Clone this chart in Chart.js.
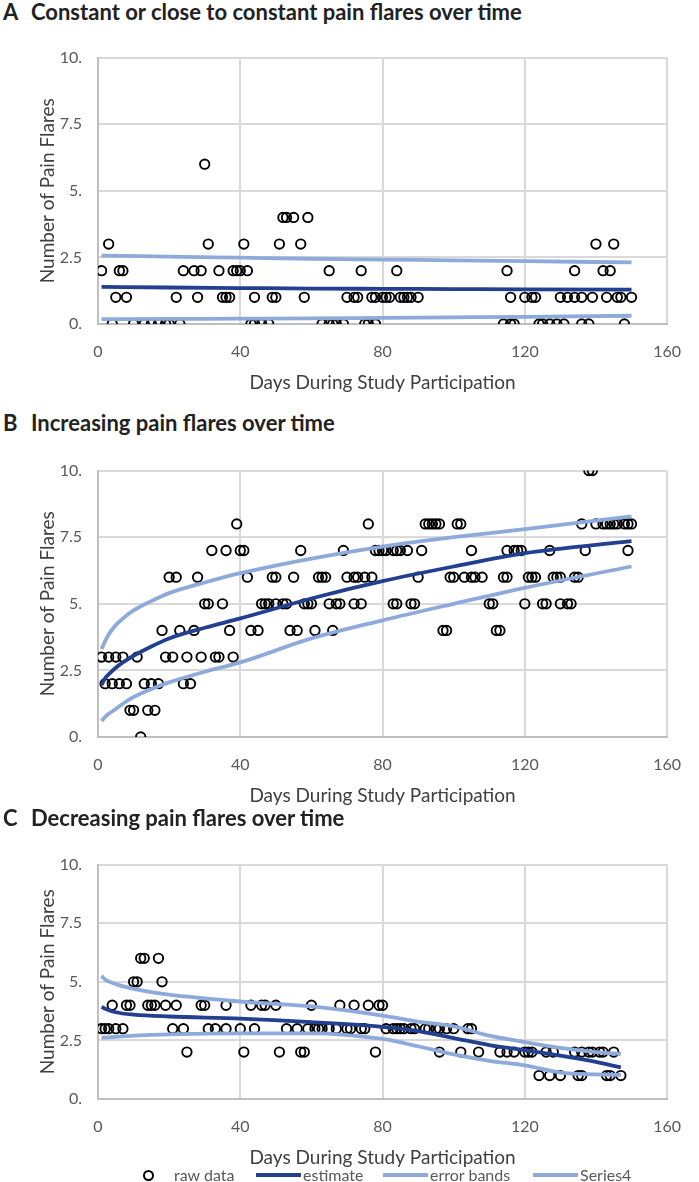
<!DOCTYPE html>
<html>
<head>
<meta charset="utf-8">
<script src="https://cdn.jsdelivr.net/npm/chart.js@4.4.0/dist/chart.umd.min.js"></script>
<style>
body { margin: 0; background: #fff; }
#page { position: relative; width: 699px; height: 1182px; overflow: hidden; font-family: Lato, "Open Sans", sans-serif; }
#page canvas { position: absolute; left: 0; }
.ttl { position: absolute; left: 0; width: 699px; height: 24px; line-height: 24px; font-size: 22px; font-weight: bold; color: #222; white-space: nowrap; }
.ttl span { position: absolute; top: 0; }
#legend { position: absolute; left: 0; top: 1165px; width: 699px; height: 20px; font-size: 16px; color: #595959; }
#legend .it { position: absolute; top: 0; line-height: 20px; white-space: nowrap; }
#legend .dot { position: absolute; top: 5px; width: 7px; height: 7px; border: 2px solid #000; border-radius: 50%; }
#legend .ln { position: absolute; top: 8px; width: 45px; height: 4px; }
</style>
</head>
<body>
<div id="page">
  <div class="ttl" style="top:0px"><span style="left:3px">A</span><span style="left:31px">Constant or close to constant pain flares over time</span></div>
  <canvas id="chartA" width="699" height="367" style="top:32px"></canvas>

  <div class="ttl" style="top:411px"><span style="left:3px">B</span><span style="left:31px">Increasing pain flares over time</span></div>
  <canvas id="chartB" width="699" height="367" style="top:445px"></canvas>

  <div class="ttl" style="top:806px"><span style="left:3px">C</span><span style="left:31px">Decreasing pain flares over time</span></div>
  <canvas id="chartC" width="699" height="335" style="top:839px"></canvas>

  <div id="legend">
    <div class="dot" style="left:143px"></div><div class="it" style="left:174px">raw data</div>
    <div class="ln" style="left:256px;background:#233f8f"></div><div class="it" style="left:303px">estimate</div>
    <div class="ln" style="left:383px;background:#8eaadb"></div><div class="it" style="left:430px">error bands</div>
    <div class="ln" style="left:533px;background:#8eaadb"></div><div class="it" style="left:580px">Series4</div>
  </div>
</div>

<script>
// axis ticks
const xTicks = [0, 40, 80, 120, 160]
const xTickLabels = ['0', '40', '80', '120', '160']
const yTicks = [0, 2.5, 5, 7.5, 10]
const yTickLabels = ['0.', '2.5', '5.', '7.5', '10.']

// A - constant: raw data (day, flares)
const aRawDay = [30,
    52, 53, 55, 59,
    3, 31, 41, 51, 57, 140, 145,
    1, 6, 7, 24, 27, 29, 34, 38, 39, 40, 42, 65, 74, 84, 115, 134, 142, 144,
    5, 8, 22, 28, 35, 36, 37, 44, 49, 50, 58, 70, 72, 73, 77, 78, 80, 81, 82, 85, 86, 87, 88, 90, 116, 120, 122, 123, 130, 132, 134, 136, 139, 143, 146, 147, 150,
    4, 10, 13, 15, 17, 19, 20, 23, 43, 44, 46, 48, 63, 65, 66, 67, 69, 75, 76, 78, 114, 116, 117, 124, 125, 127, 129, 131, 136, 138, 148]
const aRawFlares = [6,
    4, 4, 4, 4,
    3, 3, 3, 3, 3, 3, 3,
    2, 2, 2, 2, 2, 2, 2, 2, 2, 2, 2, 2, 2, 2, 2, 2, 2, 2,
    1, 1, 1, 1, 1, 1, 1, 1, 1, 1, 1, 1, 1, 1, 1, 1, 1, 1, 1, 1, 1, 1, 1, 1, 1, 1, 1, 1, 1, 1, 1, 1, 1, 1, 1, 1, 1,
    0, 0, 0, 0, 0, 0, 0, 0, 0, 0, 0, 0, 0, 0, 0, 0, 0, 0, 0, 0, 0, 0, 0, 0, 0, 0, 0, 0, 0, 0, 0]
const aLineDay = [1, 20, 40, 60, 80, 100, 120, 150]
const aEstimate = [1.39, 1.37, 1.35, 1.33, 1.32, 1.31, 1.30, 1.29]
const aUpper = [2.57, 2.53, 2.49, 2.45, 2.42, 2.39, 2.36, 2.31]
const aLower = [0.18, 0.19, 0.20, 0.21, 0.23, 0.25, 0.27, 0.31]

// B - increasing
const bRawDay = [138, 139,
    39, 76, 92, 93, 94, 95, 96, 101, 102, 136, 140, 142, 143, 144, 145, 146, 148, 149, 150,
    32, 36, 40, 41, 57, 69, 78, 79, 80, 81, 83, 84, 85, 87, 91, 105, 115, 117, 118, 119, 127, 137, 149,
    20, 22, 28, 42, 49, 50, 55, 62, 63, 64, 70, 72, 73, 75, 77, 90, 99, 100, 103, 105, 106, 108, 114, 115, 121, 122, 123, 128, 129, 130, 134, 135,
    30, 31, 35, 46, 47, 48, 50, 52, 53, 58, 59, 60, 65, 67, 68, 72, 74, 83, 84, 88, 89, 110, 111, 120, 125, 126, 130, 132, 133,
    18, 23, 27, 37, 43, 45, 54, 56, 61, 66, 97, 98, 112, 113,
    1, 3, 5, 7, 11, 19, 21, 25, 29, 33, 34, 38,
    2, 4, 6, 8, 13, 15, 17, 24, 26,
    9, 10, 14, 16,
    12]
const bRawFlares = [10, 10,
    8, 8, 8, 8, 8, 8, 8, 8, 8, 8, 8, 8, 8, 8, 8, 8, 8, 8, 8,
    7, 7, 7, 7, 7, 7, 7, 7, 7, 7, 7, 7, 7, 7, 7, 7, 7, 7, 7, 7, 7, 7, 7,
    6, 6, 6, 6, 6, 6, 6, 6, 6, 6, 6, 6, 6, 6, 6, 6, 6, 6, 6, 6, 6, 6, 6, 6, 6, 6, 6, 6, 6, 6, 6, 6,
    5, 5, 5, 5, 5, 5, 5, 5, 5, 5, 5, 5, 5, 5, 5, 5, 5, 5, 5, 5, 5, 5, 5, 5, 5, 5, 5, 5, 5,
    4, 4, 4, 4, 4, 4, 4, 4, 4, 4, 4, 4, 4, 4,
    3, 3, 3, 3, 3, 3, 3, 3, 3, 3, 3, 3,
    2, 2, 2, 2, 2, 2, 2, 2, 2,
    1, 1, 1, 1,
    0]
const bLineDay = [1, 2, 3, 5, 7, 10, 15, 20, 30, 40, 60, 80, 100, 120, 150]
const bEstimate = [1.95, 2.2, 2.35, 2.6, 2.8, 3.05, 3.4, 3.7, 4.1, 4.45, 5.2, 5.85, 6.4, 6.9, 7.35]
const bUpper = [3.3, 3.6, 3.85, 4.2, 4.45, 4.75, 5.1, 5.4, 5.8, 6.15, 6.7, 7.15, 7.5, 7.8, 8.28]
const bLower = [0.6, 0.75, 0.87, 1.05, 1.25, 1.5, 1.8, 2.05, 2.45, 2.8, 3.7, 4.38, 5.0, 5.6, 6.4]

// C - decreasing
const cRawDay = [12, 13, 17,
    10, 11, 18,
    4, 8, 9, 14, 15, 16, 19, 22, 29, 30, 36, 43, 46, 47, 50, 60, 68, 72, 76, 79, 80,
    1, 2, 3, 5, 7, 21, 24, 31, 33, 36, 40, 44, 53, 56, 59, 61, 62, 63, 65, 67, 70, 71, 74, 75, 81, 83, 84, 85, 86, 88, 89, 92, 93, 95, 96, 98, 100, 104, 105,
    25, 41, 51, 57, 58, 78, 96, 102, 107, 113, 115, 117, 120, 121, 122, 126, 128, 134, 136, 138, 139, 141, 142, 145,
    124, 127, 130, 135, 136, 143, 144, 147]
const cRawFlares = [6, 6, 6,
    5, 5, 5,
    4, 4, 4, 4, 4, 4, 4, 4, 4, 4, 4, 4, 4, 4, 4, 4, 4, 4, 4, 4, 4,
    3, 3, 3, 3, 3, 3, 3, 3, 3, 3, 3, 3, 3, 3, 3, 3, 3, 3, 3, 3, 3, 3, 3, 3, 3, 3, 3, 3, 3, 3, 3, 3, 3, 3, 3, 3, 3, 3, 3,
    2, 2, 2, 2, 2, 2, 2, 2, 2, 2, 2, 2, 2, 2, 2, 2, 2, 2, 2, 2, 2, 2, 2, 2,
    1, 1, 1, 1, 1, 1, 1, 1]
const cLineDay = [1, 2, 5, 10, 20, 40, 60, 80, 90, 100, 110, 120, 130, 140, 147]
const cEstimate = [3.93, 3.85, 3.7, 3.6, 3.52, 3.43, 3.28, 3.08, 2.9, 2.6, 2.3, 2.08, 1.85, 1.58, 1.35]
const cUpper = [5.25, 5.1, 4.9, 4.7, 4.45, 4.16, 3.95, 3.56, 3.3, 3.1, 2.7, 2.43, 2.18, 2.0, 1.92]
const cLower = [2.62, 2.62, 2.65, 2.7, 2.76, 2.8, 2.8, 2.56, 2.25, 1.9, 1.63, 1.43, 1.13, 1.05, 1.03]

const darkBlue = '#233f8f'
const lightBlue = '#8eaadb'
const tickFont = { family: 'Lato', size: 16 }
const titleFont = { family: 'Lato', size: 19 }

function pares(xs, ys) {
    return xs.map(function (d, i) { return { x: d, y: ys[i] } })
}

function linha(label, xs, ys, cor, ordem) {
    return {
        label: label,
        data: pares(xs, ys),
        showLine: true,
        borderColor: cor,
        backgroundColor: cor,
        borderWidth: 3.8,
        pointRadius: 0,
        pointHoverRadius: 0,
        cubicInterpolationMode: 'monotone',
        order: ordem
    }
}

function montarPainel(id, rawDay, rawFlares, lineDay, est, upper, lower) {
    const ctx = document.getElementById(id)
    return new Chart(ctx, {
        type: 'scatter',
        data: {
            datasets: [
                {
                    label: 'raw data',
                    data: pares(rawDay, rawFlares),
                    pointStyle: 'circle',
                    pointRadius: 4.7,
                    pointHoverRadius: 4.7,
                    pointBorderWidth: 1.9,
                    borderColor: '#000',
                    backgroundColor: 'rgba(0,0,0,0)',
                    order: 4
                },
                linha('estimate', lineDay, est, darkBlue, 1),
                linha('error bands', lineDay, upper, lightBlue, 2),
                linha('Series4', lineDay, lower, lightBlue, 3)
            ]
        },
        options: {
            responsive: false,
            animation: false,
            layout: { padding: { top: 14, right: 15, left: 0, bottom: 0 } },
            plugins: {
                legend: { display: false },
                tooltip: { enabled: false }
            },
            scales: {
                x: {
                    type: 'linear',
                    min: 0,
                    max: 160,
                    afterBuildTicks: function (s) { s.ticks = xTicks.map(function (v) { return { value: v } }) },
                    afterFit: function (s) { s.height = 75 },
                    grid: { color: '#d9d9d9', lineWidth: 2, drawTicks: false },
                    border: { color: '#bfbfbf', width: 2 },
                    ticks: {
                        padding: 18,
                        color: '#595959',
                        font: tickFont,
                        callback: function (v) { return xTickLabels[xTicks.indexOf(v)] }
                    },
                    title: {
                        display: true,
                        text: 'Days During Study Participation',
                        color: '#404040',
                        font: titleFont,
                        padding: { top: 0, bottom: 5 }
                    }
                },
                y: {
                    min: 0,
                    max: 10,
                    afterBuildTicks: function (s) { s.ticks = yTicks.map(function (v) { return { value: v } }) },
                    afterFit: function (s) { s.width = 98 },
                    grid: { color: '#d9d9d9', lineWidth: 2, drawTicks: false },
                    border: { color: '#bfbfbf', width: 2 },
                    ticks: {
                        padding: 16,
                        color: '#595959',
                        font: tickFont,
                        callback: function (v) { return yTickLabels[yTicks.indexOf(v)] }
                    },
                    title: {
                        display: true,
                        text: 'Number of Pain Flares',
                        color: '#404040',
                        font: titleFont,
                        padding: { top: 36, bottom: 0 }
                    }
                }
            }
        }
    })
}

var chartA = montarPainel('chartA', aRawDay, aRawFlares, aLineDay, aEstimate, aUpper, aLower)
var chartB = montarPainel('chartB', bRawDay, bRawFlares, bLineDay, bEstimate, bUpper, bLower)
var chartC = montarPainel('chartC', cRawDay, cRawFlares, cLineDay, cEstimate, cUpper, cLower)
</script>
</body>
</html>
